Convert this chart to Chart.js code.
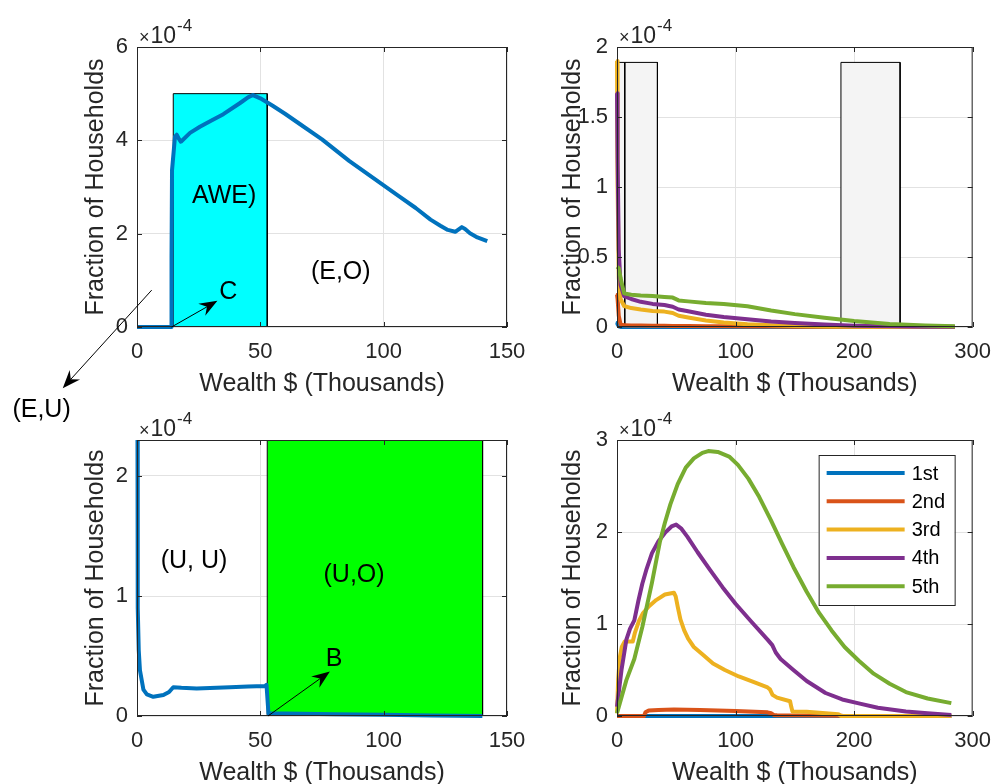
<!DOCTYPE html>
<html>
<head>
<meta charset="utf-8">
<script src="https://cdn.jsdelivr.net/npm/chart.js@4.4.0/dist/chart.umd.min.js"></script>
<style>
  html, body { margin: 0; padding: 0; background: #fff; overflow: hidden; }
  body { width: 1003px; height: 784px; position: relative; }
  canvas { position: absolute; }
</style>
</head>
<body>
<canvas id="tl" width="540" height="430" style="left:0;top:0"></canvas>
<canvas id="tr" width="463" height="430" style="left:540px;top:0"></canvas>
<canvas id="bl" width="540" height="400" style="left:0;top:392px"></canvas>
<canvas id="br" width="463" height="400" style="left:540px;top:392px"></canvas>
<script>
// ---- data (wealth in $ thousands, fractions in units of 1e-4) ----
const quintiles = ['1st', '2nd', '3rd', '4th', '5th'];
const colors = ['#0072BD', '#D95319', '#EDB120', '#7E2F8E', '#77AC30'];

// top left: single distribution + cyan region
const tlWealth = [0, 5, 10, 13.8, 14.0, 14.2, 15.4, 16.1, 17.0, 17.8, 21.5, 25.5, 30, 35, 41.8, 45, 47, 50, 55, 60, 66, 75, 86, 95, 106, 113, 119, 123, 126, 129, 131.7, 133, 135, 138, 142];
const tlFrac   = [0, 0, 0, 0, 1.5, 3.36, 4.08, 4.12, 4.03, 3.97, 4.16, 4.29, 4.42, 4.56, 4.8, 4.92, 4.97, 4.9, 4.74, 4.57, 4.35, 4.02, 3.56, 3.22, 2.81, 2.55, 2.3, 2.17, 2.08, 2.04, 2.14, 2.1, 2.01, 1.92, 1.84];
const tlBox = [14.7, 52.8];
const tlBoxTop = 5;

// top right: quintiles near zero wealth + grey regions
const trWealth = [0, 0.5, 1.5, 3, 6, 12, 20, 30, 40, 47, 52, 60, 75, 90, 110, 130, 150, 175, 200, 230, 260, 285];
const tr1st = [0.03, 0.02, 0.005, 0, 0, 0, 0, 0, 0, 0, 0, 0, 0, 0, 0, 0, 0, 0, 0, 0, 0, 0];
const tr2nd = [0.23, 0.2, 0.08, 0.02, 0.012, 0.01, 0.01, 0.009, 0.009, 0.008, 0.007, 0.007, 0.006, 0.005, 0.004, 0.003, 0.002, 0.001, 0.001, 0, 0, 0];
const tr3rd = [1.9, 1.0, 0.35, 0.2, 0.15, 0.135, 0.125, 0.115, 0.11, 0.1, 0.08, 0.068, 0.047, 0.032, 0.02, 0.012, 0.007, 0.003, 0.001, 0, 0, 0];
const tr4th = [1.67, 1.2, 0.55, 0.3, 0.22, 0.2, 0.18, 0.165, 0.157, 0.145, 0.125, 0.112, 0.088, 0.072, 0.055, 0.04, 0.029, 0.017, 0.009, 0.005, 0.002, 0.001];
const tr5th = [0.43, 0.43, 0.42, 0.35, 0.24, 0.23, 0.225, 0.222, 0.215, 0.21, 0.19, 0.183, 0.172, 0.165, 0.148, 0.118, 0.092, 0.066, 0.043, 0.022, 0.011, 0.006];
const trBoxes = [[0, 6.5], [6.5, 34.1], [188.9, 238.8]];
const trBoxTop = 1.89;

// bottom left: single distribution + green region
const blWealth = [0, 0.2, 0.4, 0.7, 1.2, 2.6, 4, 6.6, 10.7, 13, 14.7, 18, 24.2, 37.7, 45, 51.9, 52.5, 53.3, 60, 80, 100, 120, 140];
const blFrac   = [5, 2.2, 0.9, 0.55, 0.38, 0.22, 0.18, 0.16, 0.175, 0.2, 0.24, 0.235, 0.23, 0.24, 0.245, 0.25, 0.26, 0.02, 0.02, 0.015, 0.01, 0.005, 0.0];
const blBox = [52.8, 140.1];
const blBoxTop = 2.3;

// bottom right: quintile distributions
const br1X = [0, 282];
const br1Y = [0, 0];
const br2X = [0, 22.8, 24, 26.8, 35, 48, 70, 100, 127, 130, 132.5, 135, 189, 191, 282];
const br2Y = [0, 0, 0.04, 0.06, 0.065, 0.07, 0.065, 0.055, 0.04, 0.03, 0.01, 0.008, 0.004, 0, 0];
const br3X = [0, 1, 2.4, 4, 6.5, 13.3, 15, 18.7, 22, 26.8, 33, 40.4, 48, 49.5, 51.2, 53.5, 56.7, 60, 64.8, 72, 81, 91, 102.7, 115, 127, 129, 131.2, 135, 146, 147, 148, 160, 176, 186.7, 189, 282];
const br3Y = [0.03, 0.4, 0.64, 0.75, 0.81, 0.81, 0.9, 1.04, 1.12, 1.19, 1.26, 1.32, 1.34, 1.3, 1.19, 1.05, 0.93, 0.84, 0.75, 0.67, 0.57, 0.5, 0.43, 0.37, 0.31, 0.29, 0.23, 0.2, 0.16, 0.1, 0.05, 0.045, 0.03, 0.02, 0, 0];
const br4X = [0, 3.8, 7.9, 11, 14.6, 18, 21.4, 25, 29.5, 35, 40.4, 46, 49.9, 54, 59.3, 68, 78.3, 89, 100, 113, 127, 131, 133.9, 138, 148.8, 160, 175.9, 190, 203, 220, 243.7, 262, 282];
const br4Y = [0.1, 0.5, 0.83, 0.95, 1.04, 1.25, 1.44, 1.6, 1.77, 1.9, 1.99, 2.06, 2.08, 2.04, 1.95, 1.78, 1.59, 1.4, 1.22, 1.03, 0.83, 0.77, 0.69, 0.62, 0.5, 0.38, 0.25, 0.18, 0.14, 0.09, 0.05, 0.03, 0.01];
const br5X = [0, 2.4, 7.9, 14.6, 21.4, 29.5, 36.3, 40.4, 45, 51.2, 58, 64.8, 72, 77, 85, 94.6, 102, 110.8, 120, 129.8, 139, 148.8, 160, 170.5, 181, 192, 204, 216.5, 230, 243.7, 262, 282];
const br5Y = [0.03, 0.14, 0.39, 0.62, 0.97, 1.45, 1.9, 2.1, 2.3, 2.52, 2.7, 2.8, 2.86, 2.88, 2.87, 2.82, 2.73, 2.58, 2.38, 2.13, 1.88, 1.62, 1.35, 1.12, 0.93, 0.75, 0.6, 0.46, 0.35, 0.26, 0.19, 0.14];

// ---- helpers ----
const FONT = "'Liberation Sans', Arial, Helvetica, sans-serif";
const INK = '#262626';
const GRID = '#e2e2e2';

function series(label, xs, ys, color, order) {
  return {
    label, data: xs.map((v, i) => ({ x: v, y: ys[i] })),
    borderColor: color, borderWidth: 4, pointRadius: 0, fill: false,
    tension: 0, order, borderJoinStyle: 'round',
    clip: { left: 3, top: 0, right: 3, bottom: 3 }
  };
}

function patch(span, top, color) {
  return {
    label: '', data: [{ x: span[0], y: 0 }, { x: span[0], y: top }, { x: span[1], y: top }, { x: span[1], y: 0 }],
    borderColor: '#000', borderWidth: 1, backgroundColor: color, fill: 'origin',
    pointRadius: 0, tension: 0, order: 10
  };
}

function arrow(ctx, x1, y1, x2, y2) {
  const a = Math.atan2(y2 - y1, x2 - x1);
  const L = 18, W = 7, back = 12;
  const c = Math.cos(a), s = Math.sin(a);
  ctx.strokeStyle = '#000'; ctx.fillStyle = '#000'; ctx.lineWidth = 1;
  ctx.beginPath(); ctx.moveTo(x1, y1); ctx.lineTo(x2 - c * back, y2 - s * back); ctx.stroke();
  const bx = x2 - c * L, by = y2 - s * L;
  ctx.beginPath();
  ctx.moveTo(x2, y2);
  ctx.lineTo(bx - s * W, by + c * W);
  ctx.lineTo(x2 - c * back, y2 - s * back);
  ctx.lineTo(bx + s * W, by - c * W);
  ctx.closePath(); ctx.fill();
}

function drawLegend(chart) {
  const { ctx, chartArea: a } = chart;
  const w = 136, h = 150;
  const x0 = a.right - 18 - w, y0 = a.top + 15;
  ctx.fillStyle = '#fff'; ctx.fillRect(x0, y0, w, h);
  ctx.strokeStyle = INK; ctx.lineWidth = 1; ctx.strokeRect(x0 + 0.5, y0 + 0.5, w, h);
  chart.data.datasets.filter(d => d.label).forEach((ds, i) => {
    const y = y0 + 18 + i * 28.3;
    ctx.strokeStyle = ds.borderColor; ctx.lineWidth = 4;
    ctx.beginPath(); ctx.moveTo(x0 + 8, y); ctx.lineTo(x0 + 86, y); ctx.stroke();
    ctx.fillStyle = '#000'; ctx.font = '20px ' + FONT;
    ctx.textAlign = 'left'; ctx.textBaseline = 'middle';
    ctx.fillText(ds.label, x0 + 93, y + 1);
  });
}

function framePlugin(notes, legend) {
  return {
    id: 'frame',
    afterDatasetsDraw(chart) {
      const { ctx, chartArea: a, scales: { x, y } } = chart;
      ctx.save();
      // box + inward ticks
      ctx.strokeStyle = INK; ctx.lineWidth = 1;
      ctx.strokeRect(a.left + 0.5, a.top + 0.5, a.right - a.left - 1, a.bottom - a.top - 1);
      ctx.beginPath();
      x.ticks.forEach(t => {
        const px = Math.round(x.getPixelForValue(t.value)) + 0.5;
        ctx.moveTo(px, a.bottom); ctx.lineTo(px, a.bottom - 5);
        ctx.moveTo(px, a.top); ctx.lineTo(px, a.top + 5);
      });
      y.ticks.forEach(t => {
        const py = Math.round(y.getPixelForValue(t.value)) + 0.5;
        ctx.moveTo(a.left, py); ctx.lineTo(a.left + 5, py);
        ctx.moveTo(a.right, py); ctx.lineTo(a.right - 5, py);
      });
      ctx.stroke();
      // exponent label
      ctx.fillStyle = INK; ctx.textAlign = 'left'; ctx.textBaseline = 'alphabetic';
      ctx.font = '18px ' + FONT;
      ctx.fillText('\u00d7', a.left + 2, a.top - 4);
      let w = ctx.measureText('\u00d7').width;
      ctx.font = '23px ' + FONT;
      ctx.fillText('10', a.left + 3 + w, a.top - 4);
      w += ctx.measureText('10').width;
      ctx.font = '17px ' + FONT;
      ctx.fillText('-4', a.left + 4 + w, a.top - 16);
      // annotations
      (notes || []).forEach(n => {
        if (n.text) {
          ctx.fillStyle = '#000'; ctx.font = '25px ' + FONT;
          ctx.textAlign = 'center'; ctx.textBaseline = 'middle';
          ctx.fillText(n.text, x.getPixelForValue(n.x), y.getPixelForValue(n.y));
        } else {
          arrow(ctx, x.getPixelForValue(n.x1), y.getPixelForValue(n.y1),
                x.getPixelForValue(n.x2), y.getPixelForValue(n.y2));
        }
      });
      if (legend) drawLegend(chart);
      ctx.restore();
    }
  };
}

function makeChart(id, datasets, ax, notes, legend) {
  return new Chart(document.getElementById(id), {
    type: 'line',
    data: { datasets },
    options: {
      responsive: false, animation: false, devicePixelRatio: 1, events: [],
      layout: { autoPadding: false, padding: ax.pad },
      scales: {
        x: {
          type: 'linear', min: 0, max: ax.xMax,
          afterFit: s => { s.height = 72; },
          grid: { color: GRID, drawTicks: false },
          border: { display: false },
          ticks: { stepSize: ax.xStep, color: INK, font: { family: FONT, size: 22 }, padding: 12, maxRotation: 0, includeBounds: false },
          title: { display: true, text: 'Wealth $ (Thousands)', color: INK, font: { family: FONT, size: 25 }, padding: 0 }
        },
        y: {
          type: 'linear', min: 0, max: ax.yMax,
          afterFit: s => { s.width = ax.yWidth; },
          grid: { color: GRID, drawTicks: false },
          border: { display: false },
          ticks: {
            stepSize: ax.yStep, color: INK, font: { family: FONT, size: 22 }, padding: 9, includeBounds: false,
            callback: v => String(+v.toFixed(2))
          },
          title: { display: true, text: 'Fraction of Households', color: INK, font: { family: FONT, size: 25 }, padding: 0 }
        }
      },
      plugins: { legend: { display: false }, tooltip: { enabled: false } }
    },
    plugins: [framePlugin(notes, legend)]
  });
}

// ---- charts ----
makeChart('tl', [
  patch(tlBox, tlBoxTop, '#00FFFF'),
  series('', tlWealth, tlFrac, colors[0], 1)
], { xMax: 150, xStep: 50, yMax: 6, yStep: 2, yWidth: 56, pad: { left: 81, top: 47, right: 33, bottom: 31 } }, [
  { text: 'AWE)', x: 35.3, y: 2.81 },
  { text: '(E,O)', x: 82.6, y: 1.17 },
  { text: 'C', x: 37, y: 0.75 },
  { x1: 14, y1: 0, x2: 32.6, y2: 0.56 },
  { x1: 5.96, y1: 0.79, x2: -30.1, y2: -1.31 },
  { text: '(E,U)', x: -38.7, y: -1.78 }
]);

const trSeries = [tr1st, tr2nd, tr3rd, tr4th, tr5th];
makeChart('tr', [
  ...trBoxes.map(b => patch(b, trBoxTop, '#F4F4F4')),
  ...trSeries.map((ys, i) => series(quintiles[i], trWealth, ys, colors[i], 5 - i))
], { xMax: 300, xStep: 100, yMax: 2, yStep: 0.5, yWidth: 59, pad: { left: 18, top: 47, right: 17, bottom: 31 } });

makeChart('bl', [
  patch(blBox, blBoxTop, '#00FF00'),
  series('', blWealth, blFrac, colors[0], 1)
], { xMax: 150, xStep: 50, yMax: 2.3, yStep: 1, yWidth: 56, pad: { left: 81, top: 48, right: 33, bottom: 4 } }, [
  { text: '(U, U)', x: 23.1, y: 1.29 },
  { text: '(U,O)', x: 88, y: 1.175 },
  { text: 'B', x: 79.9, y: 0.47 },
  { x1: 53.1, y1: 0, x2: 78.2, y2: 0.37 }
]);

const brX = [br1X, br2X, br3X, br4X, br5X];
const brY = [br1Y, br2Y, br3Y, br4Y, br5Y];
makeChart('br', quintiles.map((q, i) => series(q, brX[i], brY[i], colors[i], 5 - i)),
  { xMax: 300, xStep: 100, yMax: 3, yStep: 1, yWidth: 59, pad: { left: 18, top: 48, right: 17, bottom: 4 } }, [], true);
</script>
</body>
</html>
